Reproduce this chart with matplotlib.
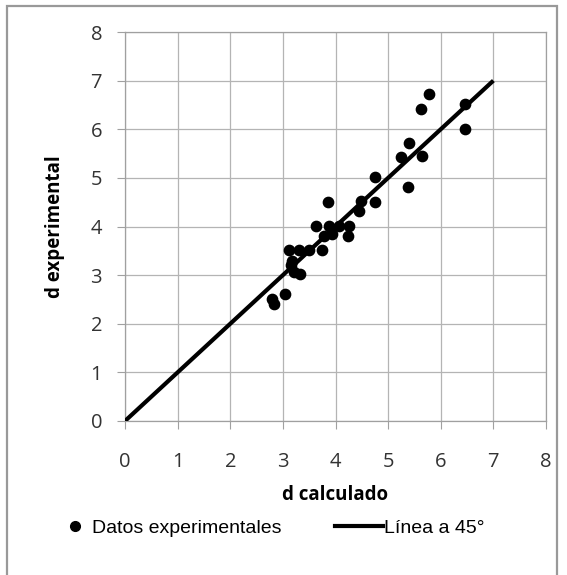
import matplotlib
matplotlib.use('Agg')
import matplotlib.pyplot as plt
from matplotlib.lines import Line2D
from matplotlib.patches import Rectangle

# datos
d_calc = [2.79, 2.84, 3.04, 3.11, 3.17, 3.21, 3.30, 3.33, 3.15, 3.49, 3.75,
          3.62, 3.78, 3.86, 3.88, 3.94, 4.07, 4.24, 4.26, 4.45, 4.49, 4.76,
          4.76, 5.24, 5.38, 5.40, 5.65, 5.63, 5.77, 6.46, 6.46]
d_exp = [2.51, 2.41, 2.62, 3.52, 3.30, 3.06, 3.52, 3.03, 3.20, 3.52, 3.52,
         4.02, 3.81, 4.51, 4.02, 3.85, 4.02, 3.81, 4.02, 4.32, 4.53, 4.51,
         5.02, 5.42, 4.82, 5.72, 5.46, 6.42, 6.72, 6.52, 6.01]
linea_x = [0, 7]
linea_y = [0, 7]

plt.rcParams['font.family'] = ['Open Sans', 'DejaVu Sans']

fig = plt.figure(figsize=(5.67, 5.75), dpi=100)
ax = fig.add_axes([125/567, 1-421/575, 421/567, 389/575])

ax.plot(linea_x, linea_y, color='black', lw=3, solid_capstyle='butt', zorder=3)
ax.scatter(d_calc, d_exp, s=55, color='black', zorder=4)

ax.set_xlim(0, 8)
ax.set_ylim(0, 8)
ax.set_xticks(range(9))
ax.set_yticks(range(9))
ax.grid(True, color='#b4b4b4', lw=0.9)
ax.set_axisbelow(True)
for s in ax.spines.values():
    s.set_color('#a0a0a0')
    s.set_linewidth(0.9)
ax.tick_params(colors='#a0a0a0', labelcolor='#333333', labelsize=14.5,
               length=5.5)
ax.tick_params(axis='y', pad=11)
ax.tick_params(axis='x', pad=17)

ax.set_xlabel('d calculado', fontsize=13.5, fontweight='bold', labelpad=9)
ax.set_ylabel('d experimental', fontsize=13.5, fontweight='bold', labelpad=18)

h1 = Line2D([], [], ls='none', marker='o', color='black', markersize=7)
h2 = Line2D([], [], color='black', lw=3)
fig.legend([h1], ['Datos experimentales'], loc='center left',
           bbox_to_anchor=(67/567, 1-528/575), frameon=False, borderpad=0,
           borderaxespad=0, handlelength=0.8, handletextpad=0.5,
           prop={'family': 'Liberation Sans', 'size': 14})
fig.legend([h2], ['Línea a 45°'], loc='center left',
           bbox_to_anchor=(335/567, 1-528/575), frameon=False, borderpad=0,
           borderaxespad=0, handlelength=2.45, handletextpad=0.05,
           prop={'family': 'Liberation Sans', 'size': 14})

fig.patches.append(Rectangle((7/567, -0.05), 550/567, 1.05 - 6/575,
                             transform=fig.transFigure, fill=False,
                             edgecolor='#999999', lw=1.6))

plt.savefig('out.png', dpi=100)
